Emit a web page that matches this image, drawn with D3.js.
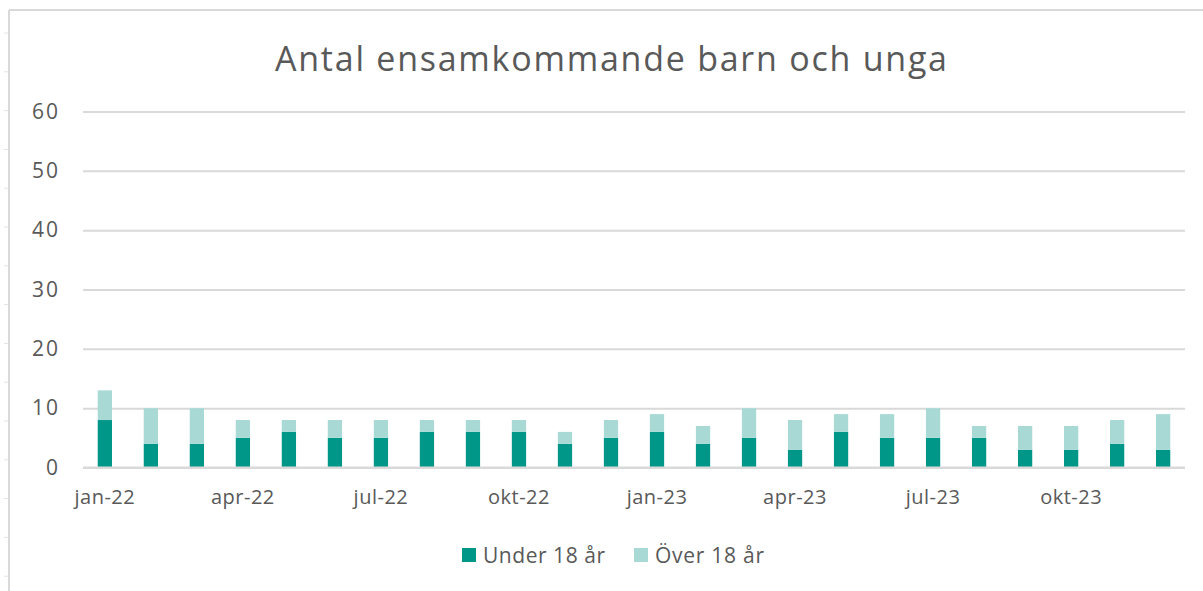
<!DOCTYPE html>
<html lang="sv">
<head>
<meta charset="utf-8">
<script src="https://cdn.jsdelivr.net/npm/d3@7"></script>
<style>
  html, body { margin: 0; padding: 0; background: #ffffff; }
  svg { display: block; }
  text { font-family: "Open Sans", Lato, sans-serif; fill: #595959; }
</style>
</head>
<body>
<svg id="chart" width="1203" height="591"></svg>
<script>
// Monthly counts, January 2022 – December 2023
const months = [
  "jan-22","feb-22","mar-22","apr-22","maj-22","jun-22","jul-22","aug-22","sep-22","okt-22","nov-22","dec-22",
  "jan-23","feb-23","mar-23","apr-23","maj-23","jun-23","jul-23","aug-23","sep-23","okt-23","nov-23","dec-23"
];
const under18 = [8,4,4,5,6,5,5,6,6,6,4,5, 6,4,5,3,6,5,5,5,3,3,4,3];
const over18  = [5,6,6,3,2,3,3,2,2,2,2,3, 3,3,5,5,3,4,5,2,4,4,4,6];
const seriesNames = ["Under 18 år", "Över 18 år"];
const seriesColors = ["#009688", "#a9d9d5"];
const yTicks = [0, 10, 20, 30, 40, 50, 60];
const xLabelMonths = ["jan-22","apr-22","jul-22","okt-22","jan-23","apr-23","jul-23","okt-23"];
const title = "Antal ensamkommande barn och unga";

const svg = d3.select("#chart");
const W = 1203, H = 591;
const plot = { left: 83, right: 1185, top: 111.5, bottom: 467.5 };
const FONT = "'Open Sans', Lato, sans-serif";

// Frame around the chart area
svg.append("line").attr("x1", 9).attr("x2", 9).attr("y1", 10).attr("y2", H)
  .attr("stroke", "#d9d9d9").attr("stroke-width", 2);
svg.append("line").attr("x1", 9).attr("x2", W).attr("y1", 10).attr("y2", 10)
  .attr("stroke", "#d9d9d9").attr("stroke-width", 2);
// Small ruler marks along the left edge
d3.range(33, H, 38.8).forEach(y => {
  svg.append("line").attr("x1", 4).attr("x2", 8).attr("y1", y).attr("y2", y)
    .attr("stroke", "#e4e4e4").attr("stroke-width", 1);
});

// Title
svg.append("text")
  .attr("x", 611).attr("y", 71)
  .attr("text-anchor", "middle")
  .attr("textLength", 672).attr("lengthAdjust", "spacing")
  .style("font-size", "34px")
  .text(title);

// Scales
const x = d3.scaleBand().domain(months).range([plot.left, plot.right]).paddingInner(0.69).paddingOuter(0.32);
const y = d3.scaleLinear().domain([0, 60]).range([plot.bottom, plot.top]);

// Gridlines and y labels
const yAxis = d3.axisLeft(y).tickValues(yTicks).tickSize(-(plot.right - plot.left)).tickPadding(23);
const gy = svg.append("g").attr("transform", `translate(${plot.left},0)`).call(yAxis);
gy.select(".domain").remove();
gy.selectAll(".tick line").attr("stroke", "#d9d9d9").attr("stroke-width", 2);
gy.selectAll(".tick text").style("font-size", "21px").attr("fill", "#595959")
  .style("font-family", FONT).style("letter-spacing", "2px");

// Stacked bars
const rows = months.map((m, i) => ({ month: m, under: under18[i], over: over18[i] }));
const stack = d3.stack().keys(["under", "over"]);
const layers = stack(rows);
svg.append("g").selectAll("g")
  .data(layers).join("g")
  .attr("fill", (d, i) => seriesColors[i])
  .selectAll("rect")
  .data(d => d).join("rect")
  .attr("x", d => x(d.data.month))
  .attr("width", x.bandwidth())
  .attr("y", d => y(d[1]))
  .attr("height", d => y(d[0]) - y(d[1]));

// Baseline over the bars
svg.append("line").attr("x1", plot.left).attr("x2", plot.right)
  .attr("y1", y(0)).attr("y2", y(0)).attr("stroke", "#d9d9d9").attr("stroke-width", 2);

// Month labels (every third month)
const xAxis = d3.axisBottom(x).tickValues(xLabelMonths).tickSize(0).tickPadding(22);
const gx = svg.append("g").attr("transform", `translate(0,${plot.bottom})`).call(xAxis);
gx.select(".domain").remove();
gx.selectAll(".tick text").style("font-size", "20px").attr("fill", "#595959")
  .style("font-family", FONT).style("letter-spacing", "0.5px");

// Legend
const legend = svg.append("g");
const legendItems = [{ x: 462, w: 122, name: seriesNames[0], color: seriesColors[0] },
                     { x: 634, w: 109, name: seriesNames[1], color: seriesColors[1] }];
legendItems.forEach(it => {
  legend.append("rect").attr("x", it.x).attr("y", 548).attr("width", 14).attr("height", 14).attr("fill", it.color);
  legend.append("text").attr("x", it.x + 21).attr("y", 563)
    .attr("textLength", it.w).attr("lengthAdjust", "spacing")
    .style("font-size", "21px").text(it.name);
});
</script>
</body>
</html>
